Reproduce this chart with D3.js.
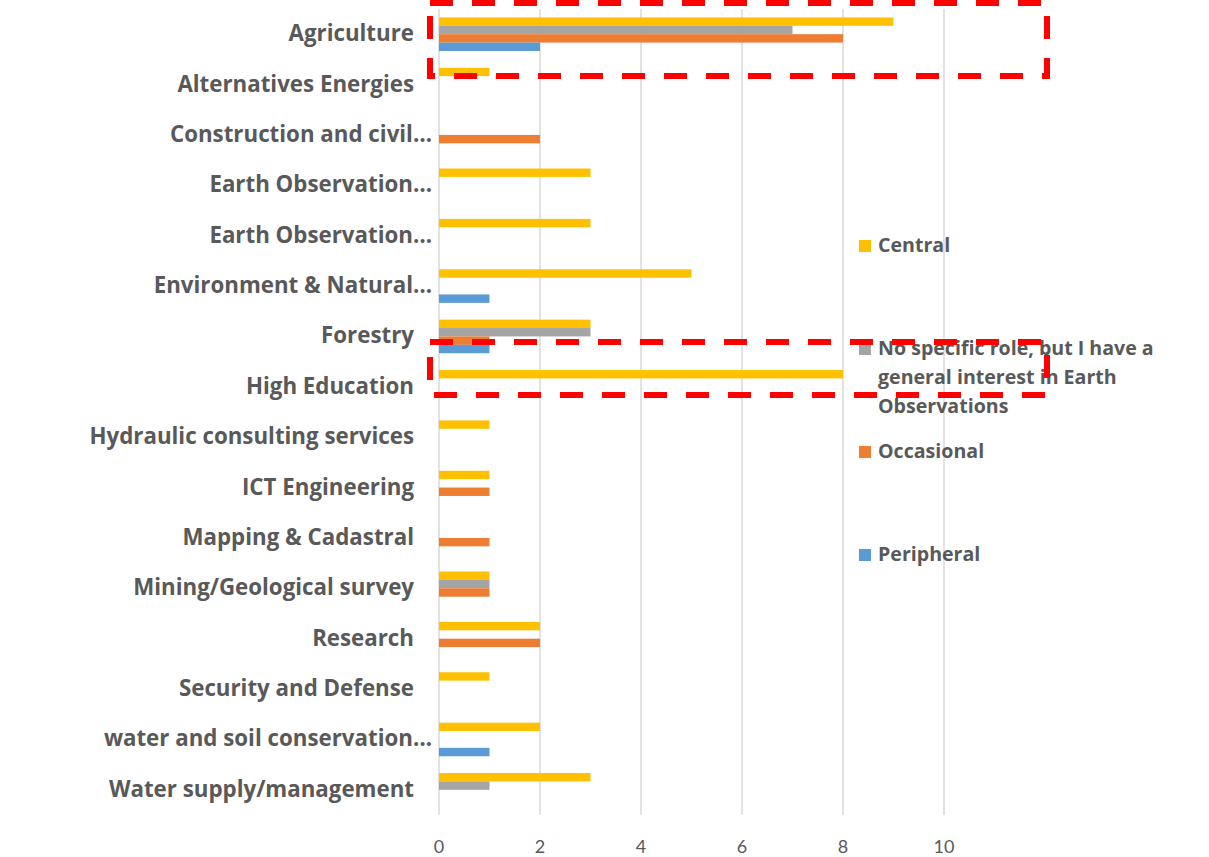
<!DOCTYPE html>
<html>
<head>
<meta charset="utf-8">
<script src="https://cdn.jsdelivr.net/npm/d3@7"></script>
<style>
  html, body { margin: 0; padding: 0; background: #ffffff; }
  svg { display: block; }
</style>
</head>
<body>
<svg id="chart" width="1209" height="857"></svg>
<script>
// Sectors of the respondents
const categories = [
  "Agriculture",
  "Alternatives Energies",
  "Construction and civil…",
  "Earth Observation…",
  "Earth Observation…",
  "Environment & Natural…",
  "Forestry",
  "High Education",
  "Hydraulic consulting services",
  "ICT Engineering",
  "Mapping & Cadastral",
  "Mining/Geological survey",
  "Research",
  "Security and Defense",
  "water and soil conservation…",
  "Water supply/management"
];

// Role of Earth Observation in each sector (counts)
const seriesNames = ["Central", "No specific role, but I have a general interest in Earth Observations", "Occasional", "Peripheral"];
const central    = [9, 1, 0, 3, 3, 5, 3, 8, 1, 1, 0, 1, 2, 1, 2, 3];
const noSpecific = [7, 0, 0, 0, 0, 0, 3, 0, 0, 0, 0, 1, 0, 0, 0, 1];
const occasional = [8, 0, 2, 0, 0, 0, 1, 0, 0, 1, 1, 1, 2, 0, 0, 0];
const peripheral = [2, 0, 0, 0, 0, 1, 1, 0, 0, 0, 0, 0, 0, 0, 1, 0];
const seriesColors = ["#FFC000", "#A5A5A5", "#ED7D31", "#5B9BD5"];
const legendLines = [["Central"], ["No specific role, but I have a", "general interest in Earth", "Observations"], ["Occasional"], ["Peripheral"]];
const xTicks = [0, 2, 4, 6, 8, 10];

const seriesValues = [central, noSpecific, occasional, peripheral];

const svg = d3.select("#chart");
const plot = { left: 439, right: 944, top: 9, bottom: 815 };
const textColor = "#595959";
const labelFont = "'Open Sans', Lato, sans-serif";
const tickFont = "Lato, 'Open Sans', sans-serif";

const x = d3.scaleLinear().domain([0, 10]).range([plot.left, plot.right]);
const y0 = d3.scaleBand()
  .domain(d3.range(categories.length))
  .range([plot.top, plot.bottom])
  .paddingInner(1 / 3)
  .paddingOuter(1 / 6);
const y1 = d3.scaleBand().domain(d3.range(seriesNames.length)).range([0, y0.bandwidth()]);

// vertical gridlines
svg.append("g").selectAll("line")
  .data(xTicks)
  .join("line")
  .attr("x1", d => x(d)).attr("x2", d => x(d))
  .attr("y1", plot.top).attr("y2", plot.bottom)
  .attr("stroke", "#D9D9D9").attr("stroke-width", 1.5);

// x tick labels
svg.append("g").selectAll("text")
  .data(xTicks)
  .join("text")
  .attr("x", d => x(d))
  .attr("y", 853)
  .attr("text-anchor", "middle")
  .attr("font-family", tickFont)
  .attr("font-size", 18)
  .attr("fill", textColor)
  .text(d => d);

// grouped bars
const groups = svg.append("g").selectAll("g")
  .data(categories.map((c, i) => i))
  .join("g")
  .attr("transform", i => `translate(0,${y0(i)})`);

groups.selectAll("rect")
  .data(i => seriesValues.map((vals, s) => ({ s, v: vals[i] })).filter(d => d.v > 0))
  .join("rect")
  .attr("x", x(0))
  .attr("y", d => y1(d.s))
  .attr("width", d => x(d.v) - x(0))
  .attr("height", y1.bandwidth())
  .attr("fill", d => seriesColors[d.s]);

// category labels (truncated names run slightly further right)
svg.append("g").selectAll("text")
  .data(categories)
  .join("text")
  .attr("x", d => d.endsWith("…") ? 432 : 414)
  .attr("y", (d, i) => y0(i) + y0.bandwidth() / 2 + 7)
  .attr("text-anchor", "end")
  .attr("font-family", labelFont)
  .attr("font-weight", "bold")
  .attr("font-size", 22.3)
  .attr("fill", textColor)
  .text(d => d);

// legend
const legend = svg.append("g");
legendLines.forEach((lines, i) => {
  const base = 252 + i * 103;
  legend.append("rect")
    .attr("x", 859).attr("y", base - 12)
    .attr("width", 12).attr("height", 12)
    .attr("fill", seriesColors[i]);
  const t = legend.append("text")
    .attr("font-family", labelFont)
    .attr("font-weight", "bold")
    .attr("font-size", 19.6)
    .attr("fill", textColor);
  lines.forEach((ln, k) => {
    t.append("tspan").attr("x", 878).attr("y", base + k * 28.8).text(ln);
  });
});

// highlight boxes
const boxes = [
  { x0: 430, y0: 3, x1: 1047, y1: 76 },
  { x0: 430, y0: 342, x1: 1047, y1: 395 }
];
svg.append("g").selectAll("rect")
  .data(boxes)
  .join("rect")
  .attr("x", d => d.x0).attr("y", d => d.y0)
  .attr("width", d => d.x1 - d.x0).attr("height", d => d.y1 - d.y0)
  .attr("fill", "none")
  .attr("stroke", "#FF0000")
  .attr("stroke-width", 6)
  .attr("stroke-dasharray", "23,19");
</script>
</body>
</html>
